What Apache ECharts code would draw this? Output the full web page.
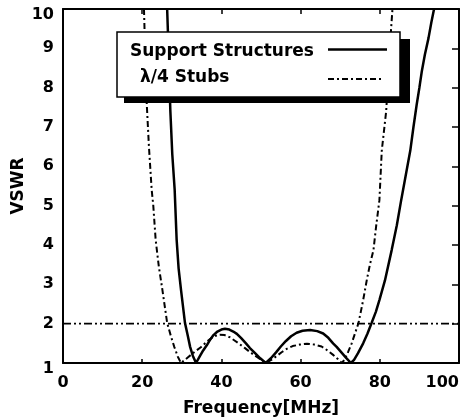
<!DOCTYPE html>
<html>
<head>
<meta charset="utf-8">
<script src="https://cdn.jsdelivr.net/npm/echarts@6/dist/echarts.min.js"></script>
<style>html,body{margin:0;padding:0;background:#fff;}#c{width:462px;height:420px;}</style>
</head>
<body>
<div id="c"></div>
<script>
// ---- data ----
var xTicks = [0, 20, 40, 60, 80, 100];
var yTicks = [1, 2, 3, 4, 5, 6, 7, 8, 9, 10];
var supportStructures = [
  [26.3,10],[26.7,8.8],[27.1,7.43],[27.6,6.3],[28.2,5.4],[28.7,4.13],[29.2,3.4],[29.8,2.86],
  [30.8,2.02],[31.5,1.7],[32.1,1.41],[32.8,1.18],[33.6,1.0],
  [34.6,1.18],[35.4,1.32],[36.3,1.45],[37.2,1.6],[38.0,1.71],[39.0,1.8],[40.0,1.85],[40.9,1.87],
  [42.0,1.85],[43.0,1.8],[43.9,1.74],[45.0,1.63],[46.2,1.5],[47.2,1.38],[48.5,1.25],[49.8,1.12],[51.2,1.0],
  [52.5,1.12],[53.8,1.27],[55.0,1.42],[56.3,1.56],[57.6,1.68],[59.0,1.77],[60.5,1.82],[62.4,1.84],
  [64.2,1.81],[65.7,1.75],[67.0,1.64],[68.2,1.5],[69.1,1.41],[70.3,1.27],[71.5,1.13],[72.7,1.0],
  [73.5,1.08],[74.5,1.25],[75.8,1.5],[76.9,1.75],[77.9,2.01],[79.0,2.3],[79.9,2.6],[81.3,3.1],
  [83.0,3.87],[84.3,4.5],[85.4,5.14],[86.6,5.8],[87.7,6.4],[88.5,7.0],[89.3,7.56],[90.0,8.0],
  [90.6,8.41],[91.4,8.85],[92.3,9.26],[93.0,9.65],[93.7,10]
];
var quarterWaveStubs = [
  [20.45,10],[20.8,8.7],[21.1,7.69],[21.7,6.5],[22.4,5.4],[22.8,5.0],[23.4,4.13],[24.2,3.45],
  [25.1,2.86],[26.3,2.02],[27.2,1.7],[28.1,1.41],[29.0,1.16],[29.8,1.0],
  [31.5,1.14],[33.2,1.28],[34.8,1.4],[36.2,1.53],[37.4,1.63],[38.5,1.69],[39.6,1.72],[40.8,1.71],
  [42.2,1.65],[43.5,1.56],[44.6,1.48],[45.8,1.39],[47.2,1.28],[48.6,1.18],[49.9,1.09],[51.2,1.0],
  [52.6,1.08],[54.0,1.18],[55.3,1.28],[56.5,1.36],[58.0,1.43],[59.8,1.47],[61.6,1.49],[63.4,1.47],
  [65.3,1.42],[66.8,1.32],[68.3,1.2],[69.4,1.1],[70.4,1.0],
  [71.2,1.1],[72.0,1.28],[72.9,1.5],[73.8,1.77],[74.6,2.01],[75.2,2.3],[75.8,2.6],[76.7,3.1],
  [77.5,3.5],[78.4,3.87],[79.1,4.5],[79.9,5.14],[80.5,6.4],[81.6,7.39],[82.2,8.4],[82.8,9.42],[83.2,10]
];
var vswrLimit = [[0,2],[100,2]];
var seriesNames = ['Support Structures', '\u03bb/4 Stubs'];

var FONT = '"DejaVu Sans", "Liberation Sans", sans-serif';
var chart = echarts.init(document.getElementById('c'), null, {renderer: 'canvas'});
var lbl = {color:'#000', fontFamily: FONT, fontWeight:'bold', fontSize:16};
chart.setOption({
  animation: false,
  backgroundColor: '#fff',
  grid: {left: 63, right: 3, top: 9, bottom: 57, containLabel: false, outerBoundsMode: 'none'},
  xAxis: [{
    type: 'value', min: xTicks[0], max: xTicks[xTicks.length-1], interval: 20, position: 'bottom',
    name: 'Frequency[MHz]', nameLocation: 'middle', nameGap: 37, nameMoveOverlap: false,
    nameTextStyle: {color:'#000', fontFamily: FONT, fontWeight:'bold', fontSize:17},
    axisLine: {show: true, onZero: false, lineStyle: {color:'#000', width: 2}},
    axisTick: {show: true, inside: true, length: 4, lineStyle: {color:'#000', width: 1.5}},
    axisLabel: Object.assign({margin: 12, alignMaxLabel: 'right'}, lbl),
    splitLine: {show: false}
  }, {
    type: 'value', min: 0, max: 100, interval: 20, position: 'top',
    axisLine: {show: true, onZero: false, lineStyle: {color:'#000', width: 2}},
    axisTick: {show: true, inside: true, length: 5, lineStyle: {color:'#000', width: 1.5}},
    axisLabel: {show: false}, splitLine: {show: false}
  }],
  yAxis: [{
    type: 'value', min: yTicks[0], max: yTicks[yTicks.length-1], interval: 1, position: 'left',
    name: 'VSWR', nameLocation: 'middle', nameGap: 36, nameRotate: 90, nameMoveOverlap: false,
    nameTextStyle: {color:'#000', fontFamily: FONT, fontWeight:'bold', fontSize:17},
    axisLine: {show: true, onZero: false, lineStyle: {color:'#000', width: 2}},
    axisTick: {show: false},
    axisLabel: Object.assign({margin: 9,
      formatter: function (v) { return (v === 1 || v === 10) ? '{e|' + v + '}' : '' + v; },
      rich: {e: {padding: [12, 0, 0, 0], color:'#000', fontFamily: FONT, fontWeight:'bold', fontSize:16}}
    }, lbl),
    splitLine: {show: false}
  }, {
    type: 'value', min: 1, max: 10, interval: 1, position: 'right',
    axisLine: {show: true, onZero: false, lineStyle: {color:'#000', width: 2}},
    axisTick: {show: true, inside: true, length: 7, lineStyle: {color:'#000', width: 1.5}},
    axisLabel: {show: false}, splitLine: {show: false}
  }],
  series: [{
    name: seriesNames[0], type: 'line', data: supportStructures, showSymbol: false, symbol: 'none',
    smooth: false, lineStyle: {color:'#000', width: 2.5}, z: 3
  }, {
    name: seriesNames[1], type: 'line', data: quarterWaveStubs, showSymbol: false, symbol: 'none',
    smooth: false, lineStyle: {color:'#000', width: 2, type: [6, 3, 2, 3]}, z: 3
  }, {
    name: 'VSWR = 2', type: 'line', data: vswrLimit, showSymbol: false, symbol: 'none',
    lineStyle: {color:'#000', width: 1.8, type: [8, 3, 2, 3, 2, 3]}, z: 2
  }],
  graphic: [
    {type: 'rect', shape: {x: 124, y: 39, width: 286, height: 64}, style: {fill: '#000'}, z: 100},
    {type: 'rect', shape: {x: 117, y: 32, width: 283, height: 65}, style: {fill: '#fff', stroke: '#000', lineWidth: 1.5}, z: 101},
    {type: 'text', x: 130, y: 52, style: {text: seriesNames[0], fill: '#000', font: 'bold 17px ' + FONT, verticalAlign: 'middle', align: 'left'}, z: 102},
    {type: 'text', x: 140, y: 78, style: {text: seriesNames[1], fill: '#000', font: 'bold 17px ' + FONT, verticalAlign: 'middle', align: 'left'}, z: 102},
    {type: 'line', shape: {x1: 328, y1: 49.5, x2: 387, y2: 49.5}, style: {stroke: '#000', lineWidth: 2.5}, z: 102},
    {type: 'line', shape: {x1: 328, y1: 79, x2: 383, y2: 79}, style: {stroke: '#000', lineWidth: 2, lineDash: [6, 3, 2, 3]}, z: 102}
  ]
});
</script>
</body>
</html>
